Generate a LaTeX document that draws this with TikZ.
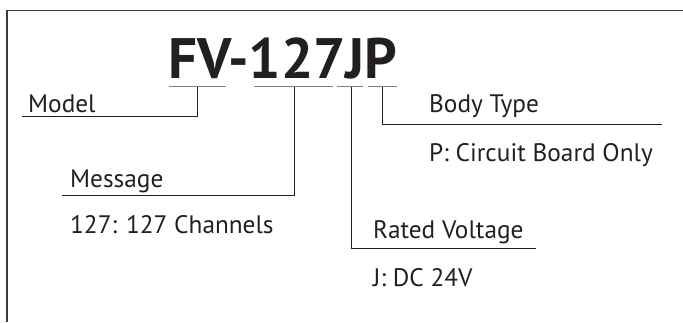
\documentclass[tikz,border=0pt]{standalone}
\usepackage{fontspec}
\setmainfont{PT Sans}
\definecolor{txt}{HTML}{231F20}
\definecolor{seggray}{HTML}{808080}
\definecolor{framegray}{HTML}{3C3C3C}
\begin{document}
\begin{tikzpicture}[x=1pt,y=-1pt,
  lbl/.style={anchor=base west,inner sep=0,font=\fontsize{25.3}{30}\selectfont,text=txt},
  seg/.style={draw=seggray,line width=1.4pt},
  lead/.style={draw=txt,line width=1pt},
  frame/.style={draw=framegray,line width=1.6pt}]
\useasboundingbox (0,0) rectangle (683,322);
% frame
\coordinate (fb) at (7,322);
\coordinate (fc) at (7,10.5);
\coordinate (fr) at (683,10.5);
\draw[frame] (fb) -- (fc) -- (fr);
% title
\node[anchor=base west,inner sep=0,text=txt,font=\bfseries\fontsize{57}{60}\selectfont] (title) at (168,78) {FV-127JP};
% underline segments
\coordinate (s1a) at (169,86.5); \coordinate (s1b) at (226,86.5);
\coordinate (s2a) at (254,86.5); \coordinate (s2b) at (333,86.5);
\coordinate (s3a) at (337,86.5); \coordinate (s3b) at (363,86.5);
\coordinate (s4a) at (368,86.5); \coordinate (s4b) at (397,86.5);
\draw[seg] (s1a) -- (s1b);
\draw[seg] (s2a) -- (s2b);
\draw[seg] (s3a) -- (s3b);
\draw[seg] (s4a) -- (s4b);
\coordinate (sM) at (197.5,87);
\coordinate (sG) at (294,87);
\coordinate (sR) at (351,87);
\coordinate (sB) at (382,87);
% labels
\node[lbl] (model) at (28,112) {Model};
\node[lbl] (message) at (70,187) {Message};
\node[lbl] (msgval) at (70,233) {127: 127 Channels};
\node[lbl] (rated) at (373,238) {Rated Voltage};
\node[lbl] (ratedval) at (373,286) {J: DC 24V};
\node[lbl] (body) at (429,112) {Body Type};
\node[lbl] (bodyval) at (429,161) {P: Circuit Board Only};
% leader ends
\coordinate (eM) at (22,116);
\coordinate (eG) at (62,195.5);
\coordinate (eR) at (536,248);
\coordinate (eB) at (662,124);
\draw[lead] (sM) |- (eM);
\draw[lead] (sG) |- (eG);
\draw[lead] (sR) |- (eR);
\draw[lead] (sB) |- (eB);
\end{tikzpicture}
\end{document}
